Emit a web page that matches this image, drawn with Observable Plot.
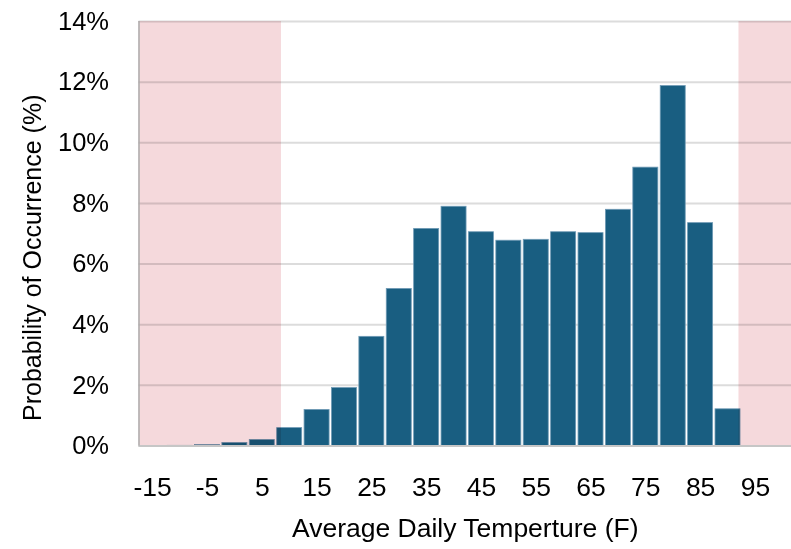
<!DOCTYPE html>
<html>
<head>
<meta charset="utf-8">
<script src="https://cdn.jsdelivr.net/npm/d3@7"></script>
<script src="https://cdn.jsdelivr.net/npm/@observablehq/plot@0.6"></script>
<style>
  html, body { margin: 0; padding: 0; background: #fff; overflow: hidden; }
  #chart svg { overflow: hidden; display: block; }
</style>
</head>
<body>
<div id="chart"></div>
<script>
// Temperature bins (°F) and probability of occurrence (%)
const temps = [-15, -10, -5, 0, 5, 10, 15, 20, 25, 30, 35, 40, 45, 50, 55, 60, 65, 70, 75, 80, 85, 90];
const probs = [0, 0.005, 0.03, 0.1, 0.2, 0.59, 1.19, 1.91, 3.6, 5.18, 7.16, 7.89, 7.05, 6.77, 6.8, 7.05, 7.02, 7.79, 9.18, 11.87, 7.35, 1.21];
const binWidth = 5;

// Shaded (pink) zones in °F
const zoneFrom = [-17.5, 92];
const zoneTo = [8.5, 102.5];

// Axes
const xDomain = [-17.5, 102.5];
const xTicks = [-15, -5, 5, 15, 25, 35, 45, 55, 65, 75, 85, 95];
const yDomain = [0, 14];
const yTicks = [0, 2, 4, 6, 8, 10, 12, 14];

const xTitle = "Average Daily Temperture (F)";
const yTitle = "Probability of Occurrence (%)";

const data = temps.map((t, i) => ({t, p: probs[i]}));
const zones = zoneFrom.map((f, i) => ({from: f, to: zoneTo[i]}));

const font = "'Liberation Sans', Arial, sans-serif";
const W = 791, H = 549;

const chart = Plot.plot({
  width: W,
  height: H,
  marginLeft: 138.5,
  marginRight: 0,
  marginTop: 21,
  marginBottom: 103.5,
  style: {fontFamily: font, fontSize: "25px", color: "#000", background: "#fff", overflow: "hidden"},
  x: {domain: xDomain, range: [138.5, 796], label: null},
  y: {domain: yDomain, label: null},
  marks: [
    Plot.gridY(yTicks, {stroke: "#dcdcdc", strokeOpacity: 1, strokeWidth: 2}),
    Plot.rectY(data, {
      x1: d => d.t - binWidth / 2,
      x2: d => d.t + binWidth / 2,
      y: "p",
      fill: "#195e81",
      stroke: "#6f9ab5",
      strokeWidth: 0.8,
      insetLeft: 1.2,
      insetRight: 1.2
    }),
    Plot.rect(zones, {x1: "from", x2: "to", fill: "#f5d9dc", mixBlendMode: "multiply"}),
    Plot.ruleY([yDomain[0]], {stroke: "#c6c6c6", strokeWidth: 2}),
    Plot.ruleX([xDomain[0]], {stroke: "#ababab", strokeWidth: 1.5}),
    Plot.axisY(yTicks, {
      tickSize: 0, tickPadding: 30, tickFormat: d => d + "%",
      fontSize: 25.5, label: null, fill: "#000"
    }),
    Plot.axisX(xTicks, {
      tickSize: 0, tickPadding: 31, tickFormat: d => String(d),
      fontSize: 26.5, label: null, fill: "#000"
    }),
    Plot.text([xTitle], {
      frameAnchor: "bottom", dy: 83, fontSize: 26.5, fill: "#000",
      textAnchor: "middle", lineAnchor: "middle"
    }),
    Plot.text([yTitle], {
      frameAnchor: "left", dx: -106, dy: 24, rotate: -90, fontSize: 25, fill: "#000",
      textAnchor: "middle", lineAnchor: "middle"
    })
  ]
});
document.getElementById("chart").appendChild(chart);
</script>
</body>
</html>
